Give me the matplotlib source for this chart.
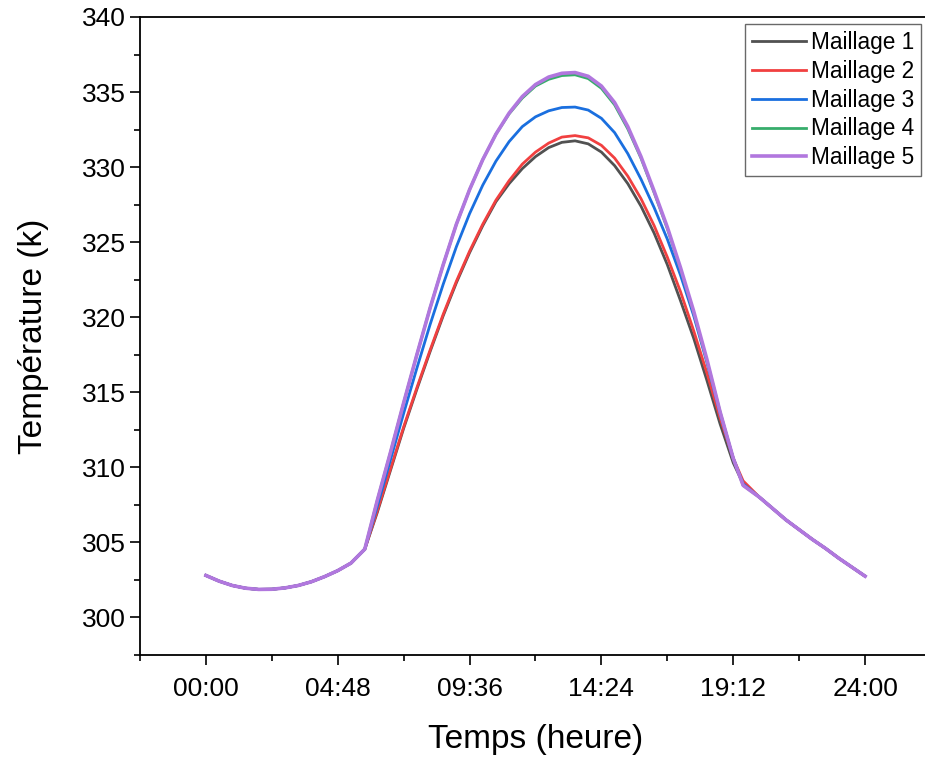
import numpy as np
import matplotlib
matplotlib.use('Agg')
import matplotlib.pyplot as plt
from matplotlib.ticker import MultipleLocator, FuncFormatter

plt.rcParams['font.family'] = ['Liberation Sans', 'DejaVu Sans']

# time as fraction of a day (0 -> 00:00, 1 -> 24:00)
t_start = [0.00, 0.02, 0.04, 0.06, 0.08, 0.10, 0.12, 0.14, 0.16, 0.18, 0.20, 0.22, 0.241]
t_mid = [0.26, 0.28, 0.30, 0.32, 0.34, 0.36, 0.38, 0.40, 0.42, 0.44, 0.46, 0.48, 0.50,
         0.52, 0.54, 0.56, 0.58, 0.60, 0.62, 0.64, 0.66, 0.68, 0.70, 0.72, 0.74, 0.76,
         0.78, 0.80, 0.815]
t_end = [0.84, 0.86, 0.88, 0.90, 0.92, 0.94, 0.96, 0.98, 1.00]
t = t_start + t_mid + t_end

common_start = [302.80, 302.42, 302.13, 301.95, 301.87, 301.88, 301.97, 302.13,
                302.38, 302.72, 303.12, 303.62, 304.55]
common_end = [308.0, 307.25, 306.5, 305.85, 305.2, 304.6, 303.95, 303.35, 302.75]

m5_mid = [307.8, 311.0, 314.3, 317.5, 320.6, 323.5, 326.2, 328.5, 330.5, 332.2,
          333.6, 334.7, 335.5, 336.0, 336.25, 336.3, 336.05, 335.4, 334.3, 332.7,
          330.7, 328.4, 326.0, 323.3, 320.4, 317.2, 313.7, 310.6, 308.8]
m4_mid = [307.8, 311.0, 314.3, 317.5, 320.6, 323.5, 326.2, 328.5, 330.5, 332.2,
          333.55, 334.6, 335.4, 335.85, 336.1, 336.15, 335.9, 335.25, 334.15, 332.55,
          330.6, 328.3, 325.9, 323.2, 320.3, 317.1, 313.7, 310.6, 308.8]
m3_mid = [307.4, 310.5, 313.6, 316.6, 319.5, 322.2, 324.7, 326.9, 328.8, 330.4,
          331.7, 332.7, 333.35, 333.75, 333.97, 334.0, 333.8, 333.25, 332.3, 330.9,
          329.2, 327.3, 325.2, 322.8, 320.1, 317.0, 313.6, 310.6, 308.9]
m2_mid = [307.1, 309.9, 312.7, 315.3, 317.8, 320.2, 322.4, 324.4, 326.2, 327.8,
          329.1, 330.2, 331.0, 331.6, 332.0, 332.1, 331.95, 331.45, 330.6, 329.4,
          327.9, 326.1, 324.0, 321.7, 319.1, 316.3, 313.3, 310.6, 309.1]
m1_mid = [307.0, 309.8, 312.6, 315.2, 317.7, 320.1, 322.3, 324.3, 326.1, 327.7,
          328.9, 329.9, 330.7, 331.3, 331.65, 331.75, 331.55, 331.0, 330.1, 328.9,
          327.4, 325.6, 323.5, 321.1, 318.6, 315.8, 312.9, 310.3, 308.9]

series = {
    'Maillage 1': common_start + m1_mid + common_end,
    'Maillage 2': common_start + m2_mid + common_end,
    'Maillage 3': common_start + m3_mid + common_end,
    'Maillage 4': common_start + m4_mid + common_end,
    'Maillage 5': common_start + m5_mid + common_end,
}
colors = ['#515151', '#F14040', '#1A6FDF', '#37AD6B', '#B177DE']
widths = [2.0, 2.0, 2.0, 2.0, 2.6]

fig = plt.figure(figsize=(9.25, 7.57), dpi=100)
ax = fig.add_axes([140 / 925, 102 / 757, 791 / 925, 638 / 757])

for (name, vals), c, lw in zip(series.items(), colors, widths):
    ax.plot(t, vals, color=c, lw=lw, label=name)

ax.set_xlim(-0.1, 1.1)
ax.set_ylim(297.5, 340)
ax.xaxis.set_major_locator(MultipleLocator(0.2))
ax.xaxis.set_minor_locator(MultipleLocator(0.1))
ax.yaxis.set_major_locator(MultipleLocator(5))
ax.yaxis.set_minor_locator(MultipleLocator(2.5))


def hhmm(x, pos):
    minutes = int(round(x * 24 * 60))
    return f"{minutes // 60:02d}:{minutes % 60:02d}"


ax.xaxis.set_major_formatter(FuncFormatter(hhmm))
ax.tick_params(which='major', direction='out', length=7.5, width=1.2,
               labelsize=19, pad=2.5)
ax.tick_params(which='minor', direction='out', length=4, width=1.2)
ax.tick_params(axis='x', which='major', pad=8)
for s in ax.spines.values():
    s.set_linewidth(1.3)

ax.set_xlabel('Temps (heure)', fontsize=24, labelpad=17)
ax.set_ylabel('Température (k)', fontsize=24, labelpad=24)

leg = ax.legend(loc='upper left', bbox_to_anchor=(745 / 925, 1 - 24 / 757),
                bbox_transform=fig.transFigure, fontsize=16.3, frameon=True,
                fancybox=False, edgecolor='#444444', handlelength=2.4,
                handletextpad=0.2, labelspacing=0.26, borderpad=0.3,
                borderaxespad=0)
leg.get_frame().set_linewidth(1.0)

fig.savefig('out.png', dpi=100)
